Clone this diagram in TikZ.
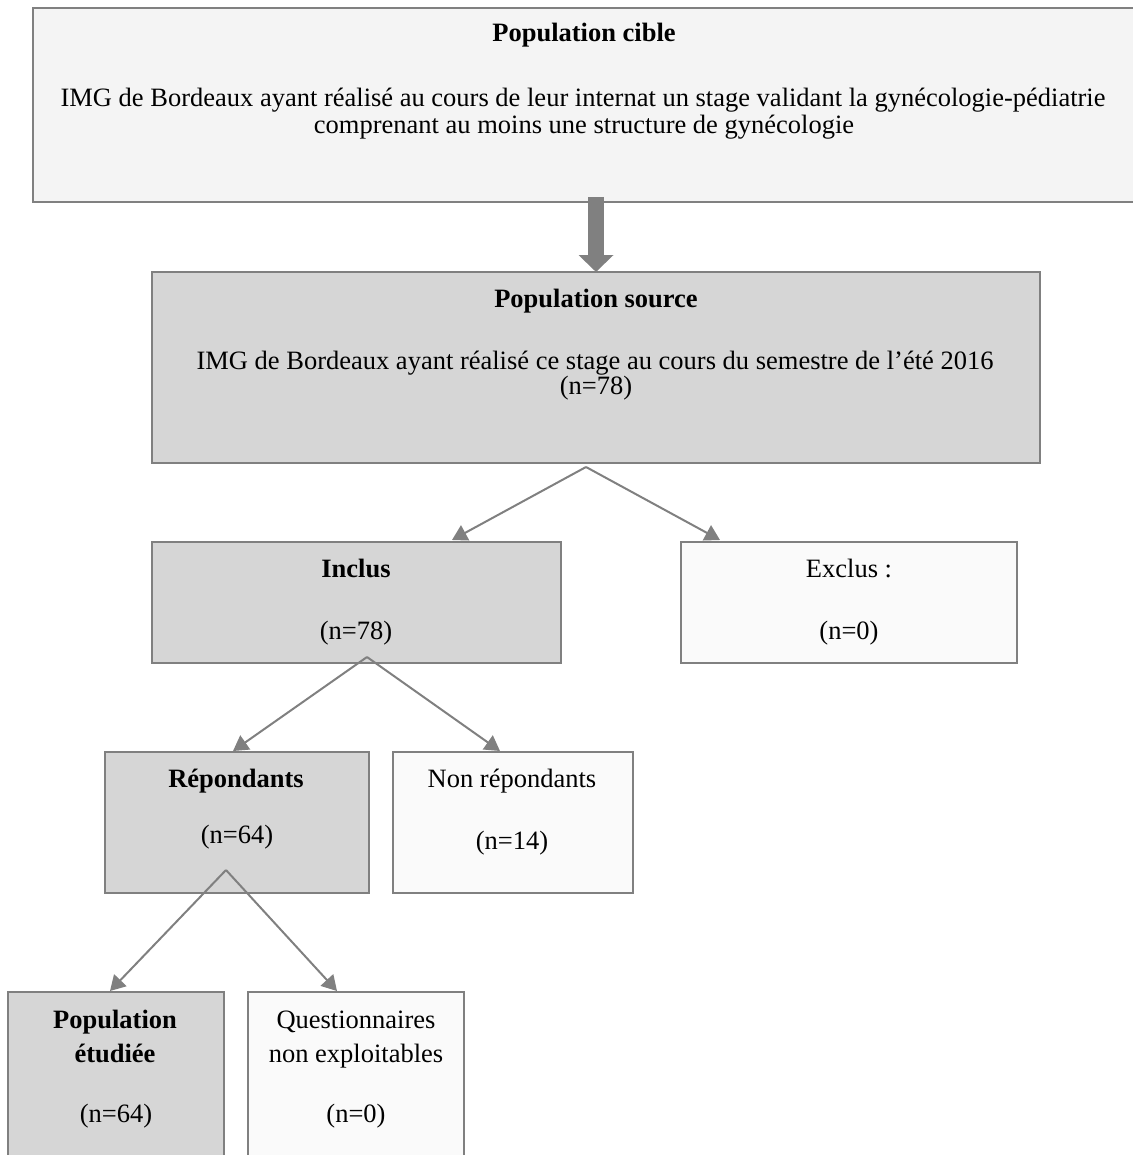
\documentclass[tikz,border=0pt]{standalone}
\usepackage{fontspec}
\setmainfont{Liberation Serif}
\usetikzlibrary{arrows.meta}
\definecolor{bord}{HTML}{808080}
\definecolor{fdark}{HTML}{D6D6D6}
\definecolor{flight}{HTML}{FAFAFA}
\definecolor{ftop}{HTML}{F4F4F4}
\begin{document}
\begin{tikzpicture}[x=0.5pt,y=-0.5pt,
  box/.style={draw=bord, line width=1pt, inner sep=0pt, outer sep=0pt},
  txt/.style={anchor=base, inner sep=0pt, font=\fontsize{13.25}{15}\selectfont},
  btxt/.style={txt, font=\fontsize{13.25}{15}\selectfont\bfseries},
  conn/.style={draw=bord, line width=1pt, -{Triangle[length=7.5pt,width=8.5pt]}}]
\useasboundingbox (0,0) rectangle (1132,1155);
% boxes
\node[box, fill=ftop, minimum width=551.5pt, minimum height=97pt] (cible) at (584.5,105) {};
\node[box, fill=fdark, minimum width=444pt, minimum height=95.5pt] (source) at (596,367.5) {};
\node[box, fill=fdark, minimum width=204.5pt, minimum height=60.5pt] (incl) at (356.5,602.5) {};
\node[box, fill=flight, minimum width=168pt, minimum height=60.5pt] (excl) at (849,602.5) {};
\node[box, fill=fdark, minimum width=132pt, minimum height=70.5pt] (rep) at (237,822.5) {};
\node[box, fill=flight, minimum width=120pt, minimum height=70.5pt] (nonrep) at (513,822.5) {};
\node[box, fill=fdark, minimum width=108pt, minimum height=89pt] (etud) at (116,1081) {};
\node[box, fill=flight, minimum width=108pt, minimum height=89pt] (quest) at (356,1081) {};
% texts
\node[btxt] (t1) at (584,42) {Population cible};
\node[txt] (t2) at (583,107) {IMG de Bordeaux ayant réalisé au cours de leur internat un stage validant la gynécologie-pédiatrie};
\node[txt] (t3) at (584,134) {comprenant au moins une structure de gynécologie};
\node[btxt] (s1) at (596,307) {Population source};
\node[txt] (s2) at (595,369) {IMG de Bordeaux ayant réalisé ce stage au cours du semestre de l’été 2016};
\node[txt] (s3) at (596,394) {(n=78)};
\node[btxt] (i1) at (356,577) {Inclus};
\node[txt] (i2) at (356,639) {(n=78)};
\node[txt] (e1) at (849,577) {Exclus :};
\node[txt] (e2) at (849,639) {(n=0)};
\node[btxt] (r1) at (236,787) {Répondants};
\node[txt] (r2) at (237,843) {(n=64)};
\node[txt] (n1) at (512,787) {Non répondants};
\node[txt] (n2) at (512,849) {(n=14)};
\node[btxt] (p1) at (115,1028) {Population};
\node[btxt] (p2) at (115,1062) {étudiée};
\node[txt] (p3) at (116,1122) {(n=64)};
\node[txt] (q1) at (356,1028) {Questionnaires};
\node[txt] (q2) at (356,1062) {non exploitables};
\node[txt] (q3) at (356,1122) {(n=0)};
% thick arrow
\coordinate (a0) at (596,197);
\draw[draw=bord, line width=8pt, -{Triangle[length=8.5pt,width=17pt]}] (a0) -- (source.north);
% branch coordinates
\coordinate (ap1) at (586,467);
\coordinate (ti) at (452,540);
\coordinate (te) at (720,540);
\coordinate (ap2) at (367,657);
\coordinate (tr) at (233,751);
\coordinate (tn) at (500,751);
\coordinate (ap3) at (226,870);
\coordinate (tp) at (110,991);
\coordinate (tq) at (337,991);
\draw[conn] (ap1) -- (ti);
\draw[conn] (ap1) -- (te);
\draw[conn] (ap2) -- (tr);
\draw[conn] (ap2) -- (tn);
\draw[conn] (ap3) -- (tp);
\draw[conn] (ap3) -- (tq);
\end{tikzpicture}
\end{document}
